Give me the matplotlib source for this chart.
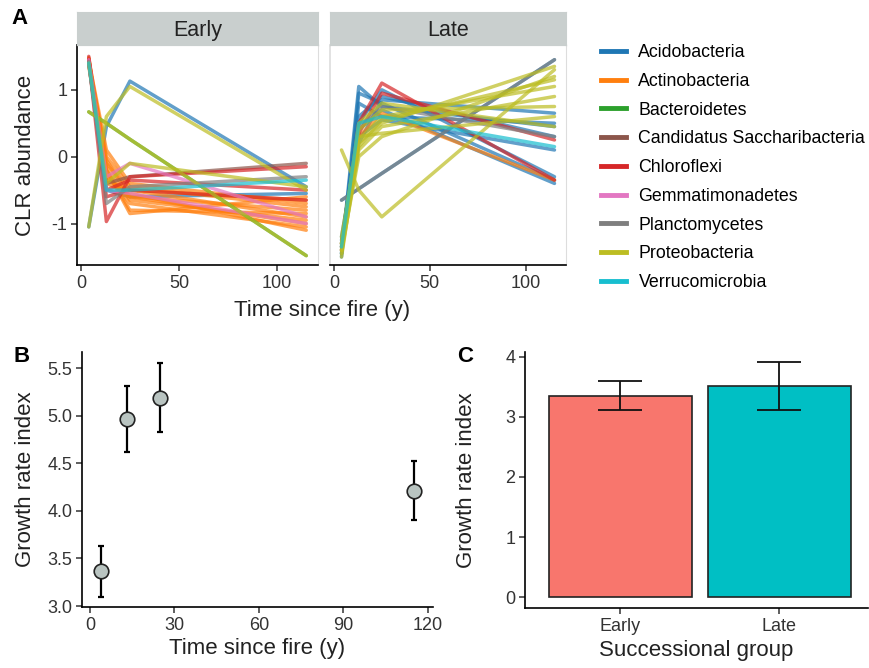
import matplotlib.pyplot as plt
from matplotlib.lines import Line2D

# sampling times (years since fire)
times = [4, 13, 25, 115]

phyla = ["Acidobacteria", "Actinobacteria", "Bacteroidetes",
         "Candidatus Saccharibacteria", "Chloroflexi", "Gemmatimonadetes",
         "Planctomycetes", "Proteobacteria", "Verrucomicrobia"]
phylum_colors = ["#1f77b4", "#ff7f0e", "#2ca02c", "#8c564b", "#d62728",
                 "#e377c2", "#7f7f7f", "#bcbd22", "#17becf"]

# CLR abundance per taxon, early successional group
early_acidobacteria = [[-1.05, 0.45, 1.13, -0.45], [1.40, -0.50, -0.60, -0.55]]
early_actinobacteria = [[1.48, -0.10, -0.50, -0.90], [1.45, -0.30, -0.60, -1.00],
                        [1.42, -0.20, -0.80, -0.85], [1.40, 0.00, -0.45, -0.75],
                        [1.47, -0.40, -0.55, -1.10], [1.38, -0.15, -0.65, -0.95],
                        [1.44, 0.10, -0.40, -0.70], [1.46, -0.25, -0.70, -1.05],
                        [1.36, -0.35, -0.50, -0.65], [1.41, -0.05, -0.60, -0.80],
                        [1.43, -0.20, -0.85, -0.60]]
early_bacteroidetes = [[0.67, 0.50, 0.26, -1.48]]
early_saccharibacteria = [[1.45, -0.40, -0.30, -0.10]]
early_chloroflexi = [[1.45, -0.97, -0.30, -0.15], [1.50, -0.50, -0.35, -0.50],
                     [1.45, -0.60, -0.50, -0.65]]
early_gemmatimonadetes = [[1.45, -0.30, -0.10, -0.90], [1.40, -0.50, -0.55, -1.00]]
early_planctomycetes = [[1.42, -0.70, -0.45, -0.30]]
early_proteobacteria = [[-1.05, 0.60, 1.05, -0.50], [1.40, -0.40, -0.10, -0.45],
                        [0.67, 0.50, 0.26, -1.48]]
early_verrucomicrobia = [[1.40, -0.50, -0.50, -0.35]]

# CLR abundance per taxon, late successional group
late_acidobacteria = [[-1.45, 1.05, 0.75, 0.45], [-1.50, 0.95, 0.80, -0.35],
                      [-1.35, 0.60, 0.90, 0.30], [-1.40, 0.40, 0.70, -0.40],
                      [-1.25, 0.20, 0.85, 0.65], [-1.45, 0.80, 0.60, 0.50],
                      [-1.30, 0.50, 1.00, -0.30], [-1.20, 0.30, 0.55, 0.10],
                      [-0.65, -0.48, -0.25, 1.45]]
late_actinobacteria = [[-1.30, 0.30, 0.65, -0.35]]
late_bacteroidetes = []
late_saccharibacteria = []
late_chloroflexi = [[-1.40, 0.50, 1.10, -0.35], [-1.35, 0.35, 0.95, 0.25]]
late_gemmatimonadetes = []
late_planctomycetes = [[-0.65, -0.48, -0.25, 1.45], [-1.30, 0.45, 0.75, 0.30]]
late_proteobacteria = [[0.10, -0.50, -0.90, 1.30], [-1.50, 0.20, 0.50, 1.35],
                       [-1.40, 0.00, 0.30, 1.20], [-1.30, 0.25, 0.60, 1.05],
                       [-1.45, 0.10, 0.45, 0.90], [-1.35, 0.40, 0.70, 0.75],
                       [-1.20, 0.30, 0.35, 0.60], [-1.40, 0.50, 0.80, 0.45],
                       [-1.30, 0.15, 0.55, 1.15]]
late_verrucomicrobia = [[-1.35, 0.50, 0.60, 0.15]]

early_sets = [early_acidobacteria, early_actinobacteria, early_bacteroidetes,
              early_saccharibacteria, early_chloroflexi, early_gemmatimonadetes,
              early_planctomycetes, early_proteobacteria, early_verrucomicrobia]
late_sets = [late_acidobacteria, late_actinobacteria, late_bacteroidetes,
             late_saccharibacteria, late_chloroflexi, late_gemmatimonadetes,
             late_planctomycetes, late_proteobacteria, late_verrucomicrobia]

# panel B
b_time = [4, 13, 25, 115]
b_mean = [3.37, 4.97, 5.19, 4.21]
b_low = [3.10, 4.62, 4.83, 3.90]
b_high = [3.63, 5.31, 5.55, 4.52]

# panel C
c_groups = ["Early", "Late"]
c_mean = [3.35, 3.52]
c_low = [3.11, 3.12]
c_high = [3.59, 3.91]
c_colors = ["#F8766D", "#00BFC4"]

plt.rcParams['font.family'] = ['Liberation Sans', 'DejaVu Sans']

fig = plt.figure(figsize=(8.69, 6.68), dpi=100)

W, H = 869, 668
TICK = 13
TITLE = 16


def ax_px(left, top, right, bottom):
    return fig.add_axes([left / W, 1 - bottom / H, (right - left) / W, (bottom - top) / H])


def style_axis(ax):
    for s in ['top', 'right']:
        ax.spines[s].set_visible(False)
    for s in ['left', 'bottom']:
        ax.spines[s].set_linewidth(1.2)
        ax.spines[s].set_color('black')
    ax.tick_params(labelsize=TICK, colors='#333333', length=4, width=1.1, pad=3)


# ---- panel A ----
facets = [("Early", early_sets, 77, 318), ("Late", late_sets, 330, 566)]
for name, sets, left, right in facets:
    ax = ax_px(left, 45, right, 265)
    for lines, col in zip(sets, phylum_colors):
        for vals in lines:
            ax.plot(times, vals, color=col, lw=2.5, alpha=0.7, solid_capstyle='round')
    ax.set_xlim(-2, 121)
    ax.set_ylim(-1.62, 1.67)
    ax.set_xticks([0, 50, 100])
    ax.set_yticks([-1, 0, 1])
    ax.set_yticklabels(["-1", "0", "1"])
    style_axis(ax)
    ax.spines['top'].set_visible(True)
    ax.spines['right'].set_visible(True)
    ax.spines['top'].set_color('#dddddd')
    ax.spines['right'].set_color('#dddddd')
    if name == "Late":
        ax.spines['left'].set_color('#dddddd')
        ax.tick_params(axis='y', left=False, labelleft=False)
    else:
        ax.set_ylabel("CLR abundance", fontsize=TITLE, color='#222222', labelpad=11)
    # strip
    sax = ax_px(left, 12, right, 45)
    sax.set_facecolor('#c9cfce')
    sax.set_xticks([])
    sax.set_yticks([])
    for s in sax.spines.values():
        s.set_color('#c9cfce')
    sax.text(0.5, 0.45, name, ha='center', va='center', fontsize=15.5, color='#222222',
             transform=sax.transAxes)

fig.text(322 / W, 1 - 311 / H, "Time since fire (y)", ha='center', va='center',
         fontsize=TITLE, color='#222222')
fig.text(20 / W, 1 - 18 / H, "A", fontsize=16, fontweight='bold', ha='center', va='center')

handles = [Line2D([0], [0], color=c, lw=3.5) for c in phylum_colors]
fig.legend(handles, phyla, loc='upper left', bbox_to_anchor=(594 / W, 1 - 37 / H),
           frameon=False, fontsize=12.8, handlelength=1.4, labelspacing=0.66,
           handletextpad=0.7, borderaxespad=0)

# ---- panel B ----
axb = ax_px(82, 352, 433, 607)
yerr = [[m - lo for m, lo in zip(b_mean, b_low)], [hi - m for m, hi in zip(b_mean, b_high)]]
axb.errorbar(b_time, b_mean, yerr=yerr, fmt='none', ecolor='black', elinewidth=1.6,
             capsize=2.5, capthick=1.6)
axb.scatter(b_time, b_mean, s=110, color='#b9c4c1', edgecolor='#222222', linewidth=1.2, zorder=3)
axb.set_xlim(-2.8, 121.8)
axb.set_ylim(2.99, 5.67)
axb.set_xticks([0, 30, 60, 90, 120])
axb.set_yticks([3.0, 3.5, 4.0, 4.5, 5.0, 5.5])
axb.set_yticklabels(["3.0", "3.5", "4.0", "4.5", "5.0", "5.5"])
style_axis(axb)
axb.set_xlabel("Time since fire (y)", fontsize=TITLE, color='#222222', labelpad=3)
axb.set_ylabel("Growth rate index", fontsize=TITLE, color='#222222', labelpad=8)
fig.text(22 / W, 1 - 357 / H, "B", fontsize=16, fontweight='bold', ha='center', va='center')

# ---- panel C ----
axc = ax_px(525, 352, 868, 608)
cx = [1, 2]
axc.bar(cx, c_mean, width=0.9, color=c_colors, edgecolor='#222222', linewidth=1.2)
cerr = [[m - lo for m, lo in zip(c_mean, c_low)], [hi - m for m, hi in zip(c_mean, c_high)]]
axc.errorbar(cx, c_mean, yerr=cerr, fmt='none', ecolor='#111111', elinewidth=1.3,
             capsize=16, capthick=1.3)
axc.set_xlim(0.4, 2.56)
axc.set_ylim(-0.18, 4.08)
axc.set_xticks(cx)
axc.set_xticklabels(c_groups)
axc.set_yticks([0, 1, 2, 3, 4])
style_axis(axc)
axc.set_xlabel("Successional group", fontsize=TITLE, color='#222222', labelpad=4)
axc.set_ylabel("Growth rate index", fontsize=TITLE, color='#222222', labelpad=20)
fig.text(465 / W, 1 - 357 / H, "C", fontsize=16, fontweight='bold', ha='center', va='center')

fig.savefig("out.png", dpi=100)
